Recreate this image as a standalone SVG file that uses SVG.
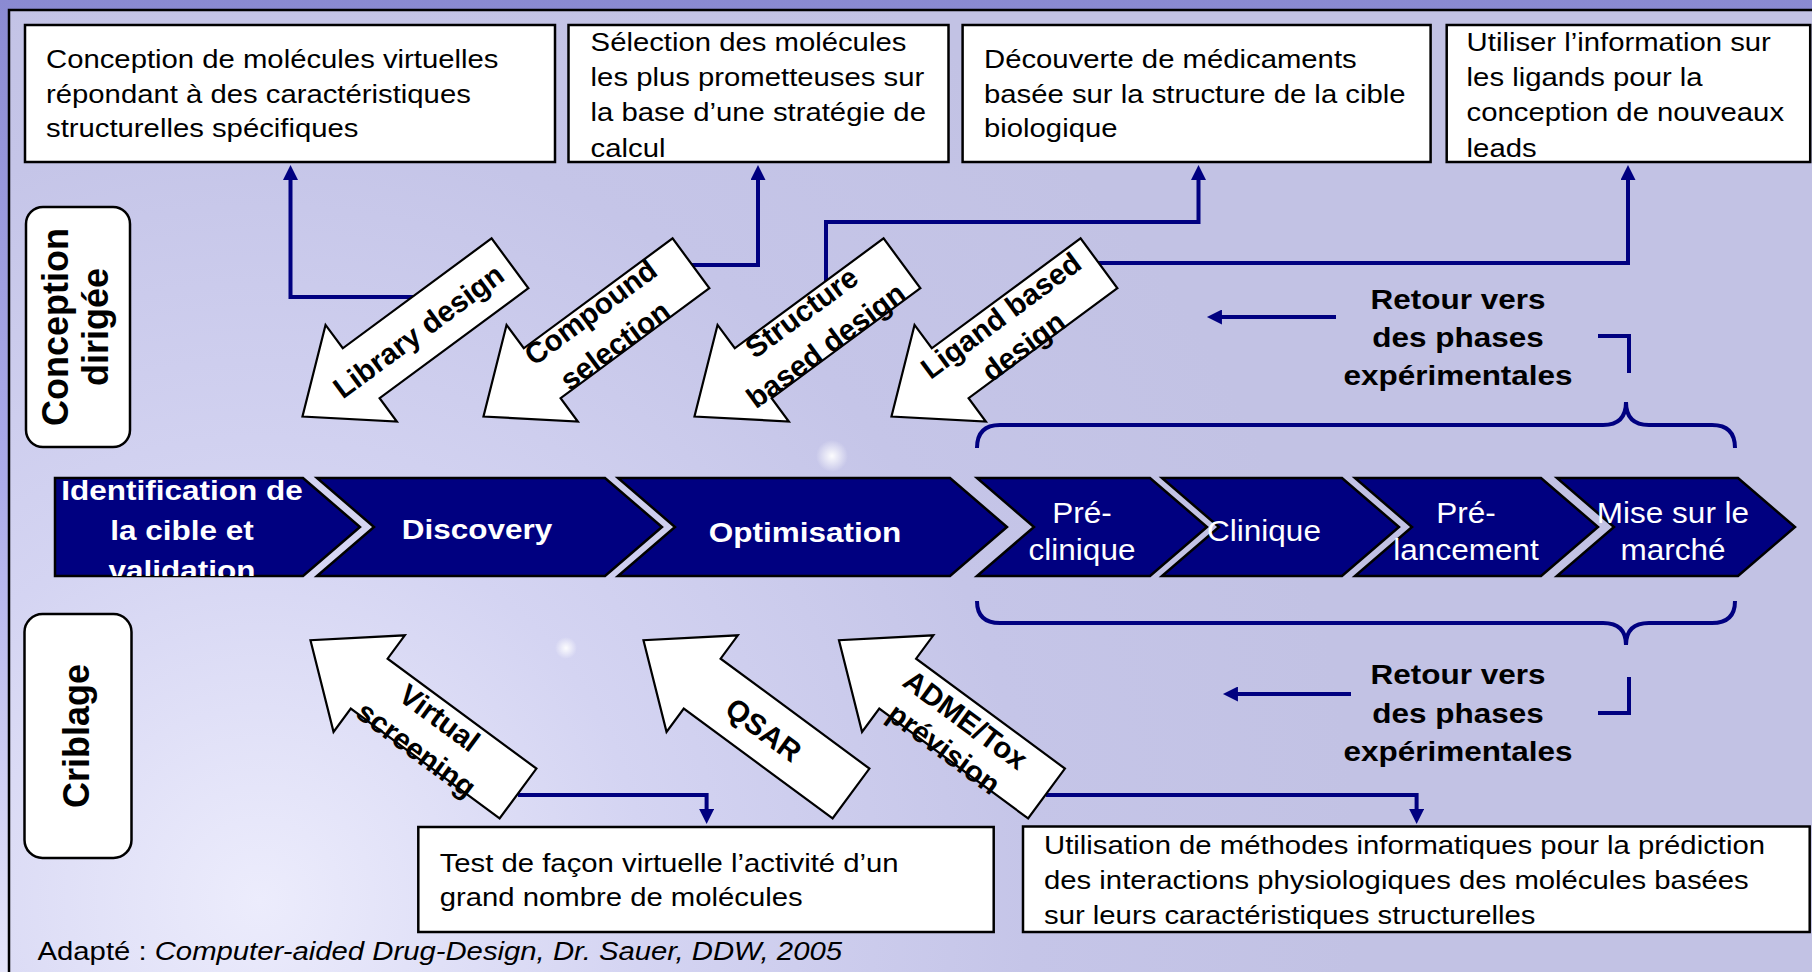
<svg xmlns="http://www.w3.org/2000/svg" width="1812" height="972" viewBox="0 0 1812 972">
<defs>
  <linearGradient id="outerBg" x1="0" y1="0" x2="0" y2="1">
    <stop offset="0" stop-color="#8a8ad2"/>
    <stop offset="0.5" stop-color="#acacea"/>
    <stop offset="1" stop-color="#e6e6fa"/>
  </linearGradient>
  <radialGradient id="innerBg" gradientUnits="userSpaceOnUse" cx="260" cy="900" r="1100">
    <stop offset="0" stop-color="#ececfc"/>
    <stop offset="0.35" stop-color="#d4d4f2"/>
    <stop offset="0.7" stop-color="#c5c5e8"/>
    <stop offset="1" stop-color="#c2c2e4"/>
  </radialGradient>
  <radialGradient id="spark">
    <stop offset="0" stop-color="#ffffff" stop-opacity="0.95"/>
    <stop offset="1" stop-color="#ffffff" stop-opacity="0"/>
  </radialGradient>
  <marker id="ah" viewBox="0 0 16 16" refX="1" refY="8" markerWidth="16" markerHeight="15" orient="auto" markerUnits="userSpaceOnUse">
    <path d="M0,0 L16,8 L0,16 z" fill="#000080"/>
  </marker>
  <clipPath id="clip1">
    <polygon points="55,478 303,478 360,527 303,576 55,576"/>
  </clipPath>
  <style>
    .box { fill: #ffffff; stroke: #000000; stroke-width: 2.5; }
    .tag { fill: #ffffff; stroke: #000000; stroke-width: 2.5; }
    .blk { fill: #ffffff; stroke: #000000; stroke-width: 2.2; stroke-linejoin: miter; }
    .chev { fill: #000080; stroke: #000000; stroke-width: 2.5; stroke-linejoin: miter; }
    .con { fill: none; stroke: #000080; stroke-width: 4; }
    .t { font-family: "Liberation Sans", Arial, sans-serif; font-size: 29.3px; fill: #000000; }
    .tb { font-family: "Liberation Sans", Arial, sans-serif; font-size: 31.5px; font-weight: bold; fill: #000000; text-anchor: middle; }
    .ta { font-family: "Liberation Sans", Arial, sans-serif; font-size: 29.5px; font-weight: bold; fill: #000000; text-anchor: middle; }
    .tv { font-family: "Liberation Sans", Arial, sans-serif; font-size: 36px; font-weight: bold; fill: #000000; text-anchor: middle; }
    .cw { font-family: "Liberation Sans", Arial, sans-serif; font-size: 31.5px; font-weight: bold; fill: #ffffff; text-anchor: middle; }
    .cr { font-family: "Liberation Sans", Arial, sans-serif; font-size: 31.5px; fill: #ffffff; text-anchor: middle; }
  </style>
</defs>

<!-- background -->
<rect x="0" y="0" width="1812" height="972" fill="url(#outerBg)"/>
<rect x="9" y="10" width="1803" height="962" fill="url(#innerBg)"/>
<circle cx="832" cy="456" r="16" fill="url(#spark)"/>
<circle cx="566" cy="648" r="11" fill="url(#spark)"/>
<path d="M9,972 V10 H1812" fill="none" stroke="#000000" stroke-width="2.5"/>

<!-- connectors -->
<g id="connectors">
  <path class="con" d="M440,297 H290.5 V179" marker-end="url(#ah)"/>
  <path class="con" d="M670,265 H758 V179" marker-end="url(#ah)"/>
  <path class="con" d="M826,300 V222 H1198.5 V179" marker-end="url(#ah)"/>
  <path class="con" d="M1080,263 H1628 V179" marker-end="url(#ah)"/>
  <path class="con" d="M518,795 H706.6 V810" marker-end="url(#ah)"/>
  <path class="con" d="M1046,795 H1416.6 V810" marker-end="url(#ah)"/>
  <path class="con" d="M1336,317 H1221" marker-end="url(#ah)"/>
  <path class="con" d="M1351,694 H1237" marker-end="url(#ah)"/>
  <path class="con" d="M1598,336 H1629 V373"/>
  <path class="con" d="M1629,677 V713 H1598"/>
  <path class="con" d="M977,448 Q977,425 1000,425 H1603 Q1626,425 1626,402 Q1626,425 1649,425 H1712 Q1735,425 1735,448"/>
  <path class="con" d="M977,601 Q977,623 1000,623 H1603 Q1626,623 1626,645 Q1626,623 1649,623 H1712 Q1735,623 1735,601"/>
</g>

<!-- top description boxes -->
<g id="box-library">
  <rect class="box" x="25" y="25" width="530" height="137"/>
  <text class="t" transform="translate(46,68) scale(1,0.88)"><tspan x="0" y="0">Conception de molécules virtuelles</tspan><tspan x="0" y="39.8">répondant à des caractéristiques</tspan><tspan x="0" y="78.4">structurelles spécifiques</tspan></text>
</g>
<g id="box-compound">
  <rect class="box" x="568.5" y="25" width="380" height="137"/>
  <text class="t" transform="translate(590.6,50.7) scale(1,0.88)"><tspan x="0" y="0">Sélection des molécules</tspan><tspan x="0" y="40.1">les plus prometteuses sur</tspan><tspan x="0" y="80.2">la base d’une stratégie de</tspan><tspan x="0" y="120.3">calcul</tspan></text>
</g>
<g id="box-structure">
  <rect class="box" x="962.6" y="25" width="468" height="137"/>
  <text class="t" transform="translate(984,68) scale(1,0.88)"><tspan x="0" y="0">Découverte de médicaments</tspan><tspan x="0" y="39.8">basée sur la structure de la cible</tspan><tspan x="0" y="78.4">biologique</tspan></text>
</g>
<g id="box-ligand">
  <rect class="box" x="1446.7" y="25" width="363.5" height="137"/>
  <text class="t" transform="translate(1466.6,50.7) scale(1,0.88)"><tspan x="0" y="0">Utiliser l’information sur</tspan><tspan x="0" y="40.1">les ligands pour la</tspan><tspan x="0" y="80.2">conception de nouveaux</tspan><tspan x="0" y="120.3">leads</tspan></text>
</g>

<!-- side labels -->
<g id="label-conception">
  <rect class="tag" x="26" y="207" width="104" height="240" rx="17" ry="17"/>
  <text class="tv" transform="translate(68,327) rotate(-90)"><tspan x="0" y="0">Conception</tspan><tspan x="0" y="40">dirigée</tspan></text>
</g>
<g id="label-criblage">
  <rect class="tag" x="24.5" y="614" width="107" height="244" rx="18" ry="18"/>
  <text class="tv" transform="translate(88.5,736) rotate(-90)">Criblage</text>
</g>

<!-- top block arrows -->
<g id="arrow-library" transform="translate(510,263.3) rotate(143.55)">
  <polygon class="blk" points="0,-31 185,-31 185,-60 258,0 185,60 185,31 0,31"/>
  <text class="ta" transform="translate(114,0) rotate(180)" y="10.5">Library design</text>
</g>
<g id="arrow-compound" transform="translate(691,263.3) rotate(143.55)">
  <polygon class="blk" points="0,-31 185,-31 185,-60 258,0 185,60 185,31 0,31"/>
  <text class="ta" transform="translate(110,0) rotate(180)"><tspan x="0" y="-10">Compound</tspan><tspan x="0" y="31">selection</tspan></text>
</g>
<g id="arrow-structure" transform="translate(902,263.3) rotate(143.55)">
  <polygon class="blk" points="0,-31 185,-31 185,-60 258,0 185,60 185,31 0,31"/>
  <text class="ta" transform="translate(110,0) rotate(180)"><tspan x="0" y="-10">Structure</tspan><tspan x="0" y="31">based design</tspan></text>
</g>
<g id="arrow-ligand" transform="translate(1099,263.3) rotate(143.55)">
  <polygon class="blk" points="0,-31 185,-31 185,-60 258,0 185,60 185,31 0,31"/>
  <text class="ta" transform="translate(110,0) rotate(180)"><tspan x="0" y="-6">Ligand based</tspan><tspan x="0" y="32">design</tspan></text>
</g>

<!-- process chevrons -->
<g id="phase-identification">
  <polygon class="chev" points="55,478 303,478 360,527 303,576 55,576"/>
  <g clip-path="url(#clip1)">
    <text class="cw" transform="translate(182,500) scale(1,0.9)"><tspan x="0" y="0">Identification de</tspan><tspan x="0" y="44.4">la cible et</tspan><tspan x="0" y="88.9">validation</tspan></text>
  </g>
</g>
<g id="phase-discovery">
  <polygon class="chev" points="317,478 605,478 662,527 605,576 317,576 374,527"/>
  <text class="cw" transform="translate(477,539) scale(1,0.9)">Discovery</text>
</g>
<g id="phase-optimisation">
  <polygon class="chev" points="618,478 950,478 1007,527 950,576 618,576 675,527"/>
  <text class="cw" transform="translate(805,542) scale(1,0.9)">Optimisation</text>
</g>
<g id="phase-preclinique">
  <polygon class="chev" points="977,478 1150,478 1207,527 1150,576 977,576 1034,527"/>
  <text class="cr" transform="translate(1082,523) scale(1,0.95)"><tspan x="0" y="0">Pré-</tspan><tspan x="0" y="38.5">clinique</tspan></text>
</g>
<g id="phase-clinique">
  <polygon class="chev" points="1162,478 1342,478 1399,527 1342,576 1162,576 1219,527"/>
  <text class="cr" transform="translate(1264,541) scale(1,0.95)">Clinique</text>
</g>
<g id="phase-prelancement">
  <polygon class="chev" points="1355,478 1541,478 1598,527 1541,576 1355,576 1412,527"/>
  <text class="cr" transform="translate(1466,523) scale(1,0.95)"><tspan x="0" y="0">Pré-</tspan><tspan x="0" y="38.5">lancement</tspan></text>
</g>
<g id="phase-marche">
  <polygon class="chev" points="1557,478 1738,478 1795,527 1738,576 1557,576 1614,527"/>
  <text class="cr" transform="translate(1673,523) scale(1,0.95)"><tspan x="0" y="0">Mise sur le</tspan><tspan x="0" y="38.5">marché</tspan></text>
</g>

<!-- feedback labels -->
<g id="retour-top">
  <text class="tb" transform="translate(1458,309) scale(1,0.86)"><tspan x="0" y="0">Retour vers</tspan><tspan x="0" y="44.2">des phases</tspan><tspan x="0" y="88.4">expérimentales</tspan></text>
</g>
<g id="retour-bottom">
  <text class="tb" transform="translate(1458,684) scale(1,0.86)"><tspan x="0" y="0">Retour vers</tspan><tspan x="0" y="44.8">des phases</tspan><tspan x="0" y="89.5">expérimentales</tspan></text>
</g>

<!-- bottom block arrows -->
<g id="arrow-virtual" transform="translate(518,793.5) rotate(-143.55)">
  <polygon class="blk" points="0,-31 185,-31 185,-60 258,0 185,60 185,31 0,31"/>
  <text class="ta" transform="translate(108,0) rotate(180)"><tspan x="0" y="-4">Virtual</tspan><tspan x="0" y="35">screening</tspan></text>
</g>
<g id="arrow-qsar" transform="translate(851,793.5) rotate(-143.55)">
  <polygon class="blk" points="0,-31 185,-31 185,-60 258,0 185,60 185,31 0,31"/>
  <text class="ta" transform="translate(108,0) rotate(180)" y="11">QSAR</text>
</g>
<g id="arrow-adme" transform="translate(1046.5,793.5) rotate(-143.55)">
  <polygon class="blk" points="0,-31 185,-31 185,-60 258,0 185,60 185,31 0,31"/>
  <text class="ta" transform="translate(109,0) rotate(180)"><tspan x="0" y="-1">ADME/Tox</tspan><tspan x="0" y="35">prévision</tspan></text>
</g>

<!-- bottom description boxes -->
<g id="box-virtual">
  <rect class="box" x="418.3" y="827" width="575.4" height="105"/>
  <text class="t" transform="translate(439.7,872) scale(1,0.88)"><tspan x="0" y="0">Test de façon virtuelle l’activité d’un</tspan><tspan x="0" y="38.6">grand nombre de molécules</tspan></text>
</g>
<g id="box-adme">
  <rect class="box" x="1023" y="826.5" width="786.7" height="105.5"/>
  <text class="t" transform="translate(1044,854) scale(1,0.88)"><tspan x="0" y="0">Utilisation de méthodes informatiques pour la prédiction</tspan><tspan x="0" y="39.8">des interactions physiologiques des molécules basées</tspan><tspan x="0" y="79.6">sur leurs caractéristiques structurelles</tspan></text>
</g>

<!-- source -->
<g id="source">
  <text class="t" transform="translate(37.5,960) scale(1,0.88)">Adapté : <tspan font-style="italic">Computer-aided Drug-Design, Dr. Sauer, DDW, 2005</tspan></text>
</g>
</svg>
